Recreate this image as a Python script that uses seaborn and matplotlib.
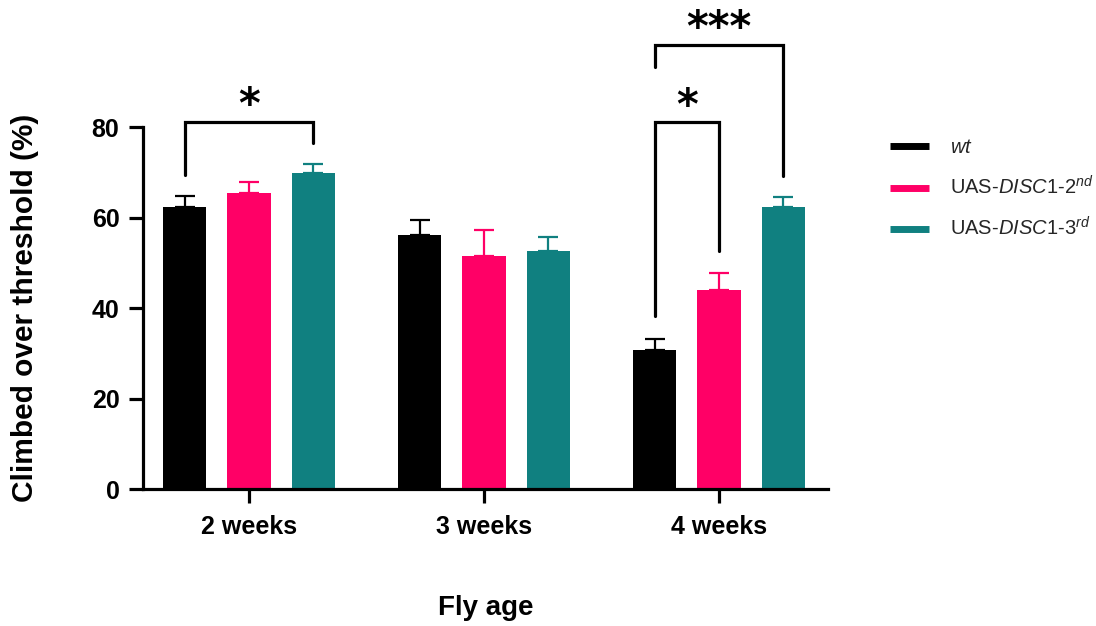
import numpy as np
import pandas as pd
import matplotlib
matplotlib.use("Agg")
import matplotlib.pyplot as plt
from matplotlib.lines import Line2D
import seaborn as sns

# Climbing assay: mean % of flies over threshold with SEM
ages = ["2 weeks", "3 weeks", "4 weeks"]
genotypes = ["wt", "UAS-DISC1-2nd", "UAS-DISC1-3rd"]
wt_mean = [62.3, 56.1, 30.7]
wt_sem = [2.4, 3.3, 2.4]
disc2_mean = [65.4, 51.6, 44.0]
disc2_sem = [2.4, 5.6, 3.7]
disc3_mean = [69.8, 52.5, 62.3]
disc3_sem = [2.0, 3.3, 2.2]
colors = ["#000000", "#FF0066", "#108080"]
legend_labels = [r"$\mathit{wt}$",
                 r"UAS-$\mathit{DISC1}$-2$^{\mathit{nd}}$",
                 r"UAS-$\mathit{DISC1}$-3$^{\mathit{rd}}$"]

means = [wt_mean, disc2_mean, disc3_mean]
sems = [wt_sem, disc2_sem, disc3_sem]

df = pd.DataFrame({
    "age": np.tile(ages, 3),
    "genotype": np.repeat(genotypes, 3),
    "value": np.concatenate(means),
})

sns.set_theme(style="ticks")
plt.rcParams["font.family"] = ["Liberation Sans", "DejaVu Sans"]
plt.rcParams["mathtext.fontset"] = "custom"
plt.rcParams["mathtext.rm"] = "Liberation Sans"
plt.rcParams["mathtext.it"] = "Liberation Sans:italic"
plt.rcParams["mathtext.bf"] = "Liberation Sans:bold"

fig = plt.figure(figsize=(10.96, 6.26), dpi=100)
ax = fig.add_axes([0.1305, 0.2188, 0.625, 0.5783])

sns.barplot(data=df, x="age", y="value", hue="genotype", order=ages,
            hue_order=genotypes, palette=colors, width=0.82, gap=0.33,
            errorbar=None, saturation=1, legend=False, ax=ax,
            edgecolor="none")

# bar centres and heights per genotype
bar_conts = list(ax.containers)
centers = [[p.get_x() + p.get_width() / 2 for p in cont.patches]
           for cont in bar_conts]
heights = [[p.get_height() for p in cont.patches] for cont in bar_conts]

# upward-only SEM bars
for xs, hs, sem, col in zip(centers, heights, sems, colors):
    ax.errorbar(xs, hs, yerr=[np.zeros(len(sem)), sem], fmt="none",
                ecolor=col, elinewidth=1.6, capsize=7.5, capthick=1.6,
                zorder=1)

ax.set_ylim(0, 80)
ax.set_xlim(-0.451, 2.464)
ax.set_yticks([0, 20, 40, 60, 80])

for s in ["top", "right"]:
    ax.spines[s].set_visible(False)
for s in ["left", "bottom"]:
    ax.spines[s].set_linewidth(2.3)
    ax.spines[s].set_color("black")

ax.tick_params(axis="y", length=10, width=2.3, labelsize=18, pad=7,
               color="black", labelcolor="black")
ax.tick_params(axis="x", length=10, width=2.3, labelsize=18, pad=8.5,
               color="black", labelcolor="black")
for lab in ax.get_xticklabels() + ax.get_yticklabels():
    lab.set_fontweight("bold")

ax.set_ylabel("Climbed over threshold (%)", fontsize=21.5, fontweight="bold",
              color="black")
ax.yaxis.set_label_coords(-0.152, 0.5)
ax.set_xlabel("Fly age", fontsize=20, fontweight="bold", color="black")
ax.xaxis.set_label_coords(0.5, -0.292)


def bracket(x1, x2, y_top, y1_low, y2_low, text, ty):
    ax.plot([x1, x1, x2, x2], [y1_low, y_top, y_top, y2_low], color="black",
            lw=2.3, clip_on=False, solid_joinstyle="miter")
    ax.text((x1 + x2) / 2, ty, text, ha="center", va="baseline",
            fontsize=30, fontweight="bold", color="black", clip_on=False,
            family="DejaVu Sans")


bracket(centers[0][0], centers[2][0], 81.0, 69.4, 76.5, "*", 82.0)
bracket(centers[0][2], centers[1][2], 81.2, 38.2, 52.7, "*", 81.7)
bracket(centers[0][2], centers[2][2], 98.1, 93.3, 69.2, "***", 99.0)

handles = [Line2D([0], [0], color=c, lw=5, solid_capstyle="butt")
           for c in colors]
fig.legend(handles, legend_labels, loc="upper left",
           bbox_to_anchor=(0.812, 0.779), frameon=False, fontsize=14.5,
           handlelength=1.94, handletextpad=1.02, labelspacing=0.9,
           borderpad=0, borderaxespad=0)

fig.savefig("out.png", dpi=100)
